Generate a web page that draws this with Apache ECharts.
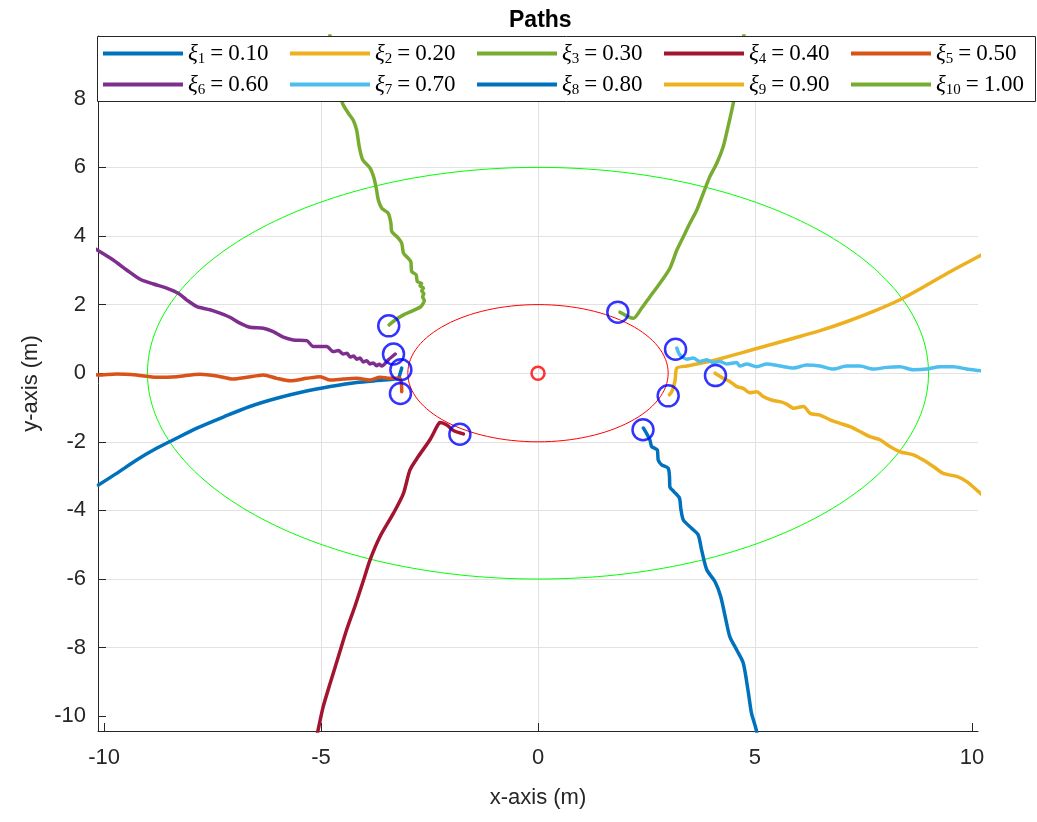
<!DOCTYPE html>
<html>
<head>
<meta charset="utf-8">
<title>Paths</title>
<script src="https://cdn.jsdelivr.net/npm/echarts@6/dist/echarts.min.js"></script>
<style>
  html, body { margin: 0; padding: 0; background: #ffffff; }
  #chart { width: 1037px; height: 822px; }
</style>
</head>
<body>
<div id="chart"></div>
<script>
// Parameter values of the ten runs (legend order)
const xiValues = ['0.10', '0.20', '0.30', '0.40', '0.50', '0.60', '0.70', '0.80', '0.90', '1.00'];

// Trajectories, [x, y] in metres
const path1 = [[-10.13,-3.26],[-9.71,-2.92],[-9.25,-2.53],[-8.79,-2.19],[-8.40,-1.94],[-7.86,-1.60],[-7.24,-1.27],[-6.64,-0.97],[-6.02,-0.73],[-5.41,-0.54],[-4.79,-0.39],[-4.18,-0.27],[-3.56,-0.20],[-3.22,-0.15],[-3.18,-0.02],[-3.14,0.15]];
const path2 = [[10.40,3.58],[10.15,3.40],[9.57,3.01],[8.96,2.57],[8.34,2.14],[7.73,1.80],[7.11,1.50],[6.50,1.24],[5.89,1.02],[5.27,0.80],[4.65,0.58],[4.04,0.37],[3.43,0.21],[3.20,0.15],[3.16,-0.20],[3.10,-0.49],[3.03,-0.63]];
const path3 = [[-4.80,9.90],[-4.65,8.60],[-4.50,7.85],[-4.37,7.58],[-4.26,7.38],[-4.18,7.09],[-4.12,6.61],[-4.04,6.22],[-3.87,5.98],[-3.78,5.69],[-3.72,5.34],[-3.68,5.05],[-3.60,4.81],[-3.45,4.66],[-3.39,4.37],[-3.37,4.13],[-3.22,3.94],[-3.14,3.79],[-3.10,3.50],[-2.99,3.35],[-2.93,3.25],[-2.91,2.96],[-2.81,2.87],[-2.78,2.67],[-2.68,2.62],[-2.72,2.55],[-2.64,2.48],[-2.68,2.40],[-2.63,2.32],[-2.66,2.23],[-2.62,2.12],[-2.70,1.94],[-2.87,1.83],[-3.10,1.70],[-3.29,1.55],[-3.43,1.41]];
const path4 = [[-5.12,-10.70],[-5.06,-10.35],[-4.95,-9.72],[-4.79,-9.04],[-4.60,-8.26],[-4.41,-7.48],[-4.22,-6.80],[-4.02,-6.03],[-3.87,-5.44],[-3.64,-4.76],[-3.33,-4.08],[-3.10,-3.50],[-2.95,-2.82],[-2.76,-2.43],[-2.49,-1.94],[-2.33,-1.56],[-2.26,-1.44],[-2.10,-1.51],[-1.95,-1.67],[-1.72,-1.77]];
const path5 = [[-10.30,-0.04],[-10.13,-0.05],[-9.71,-0.02],[-9.25,-0.05],[-8.79,-0.12],[-8.32,-0.10],[-7.79,-0.03],[-7.40,-0.08],[-7.02,-0.17],[-6.71,-0.12],[-6.33,-0.05],[-6.02,-0.15],[-5.71,-0.22],[-5.33,-0.15],[-5.02,-0.10],[-4.79,-0.20],[-4.49,-0.17],[-4.18,-0.15],[-3.87,-0.20],[-3.64,-0.12],[-3.41,-0.15],[-3.18,-0.15],[-3.14,-0.54]];
const path6 = [[-10.30,3.70],[-10.13,3.57],[-9.79,3.30],[-9.48,3.01],[-9.17,2.74],[-8.86,2.60],[-8.56,2.48],[-8.29,2.33],[-8.10,2.14],[-7.86,1.94],[-7.56,1.85],[-7.33,1.75],[-7.10,1.63],[-6.87,1.46],[-6.64,1.34],[-6.33,1.31],[-6.10,1.21],[-5.87,1.05],[-5.64,0.97],[-5.33,0.95],[-5.18,0.78],[-4.87,0.78],[-4.72,0.63],[-4.60,0.66],[-4.49,0.56],[-4.40,0.58],[-4.33,0.47],[-4.25,0.50],[-4.18,0.41],[-4.10,0.44],[-4.03,0.33],[-3.95,0.36],[-3.87,0.27],[-3.80,0.30],[-3.72,0.22],[-3.66,0.26],[-3.60,0.21],[-3.45,0.39],[-3.29,0.56]];
const path7 = [[10.30,0.06],[10.15,0.08],[9.88,0.12],[9.57,0.19],[9.26,0.19],[8.96,0.12],[8.65,0.10],[8.34,0.19],[8.03,0.17],[7.73,0.12],[7.42,0.21],[7.11,0.21],[6.80,0.12],[6.50,0.21],[6.19,0.24],[5.89,0.15],[5.58,0.21],[5.27,0.27],[5.04,0.19],[4.81,0.27],[4.65,0.21],[4.58,0.31],[4.35,0.27],[4.19,0.34],[4.04,0.31],[3.89,0.39],[3.73,0.34],[3.58,0.44],[3.43,0.41],[3.27,0.53],[3.20,0.73]];
const path8 = [[5.08,-10.70],[5.02,-10.35],[4.92,-9.91],[4.85,-9.33],[4.73,-8.45],[4.58,-8.07],[4.42,-7.68],[4.33,-7.19],[4.21,-6.51],[4.08,-6.08],[3.89,-5.73],[3.77,-5.15],[3.69,-4.71],[3.54,-4.52],[3.35,-4.28],[3.29,-3.94],[3.26,-3.64],[3.13,-3.45],[3.04,-3.32],[3.03,-3.01],[3.00,-2.77],[2.85,-2.67],[2.77,-2.53],[2.75,-2.24],[2.62,-2.14],[2.58,-1.95],[2.50,-1.75],[2.43,-1.60]];
const path9 = [[4.08,0.00],[4.27,-0.15],[4.42,-0.24],[4.58,-0.39],[4.73,-0.44],[4.88,-0.57],[5.04,-0.54],[5.19,-0.68],[5.38,-0.78],[5.58,-0.83],[5.73,-0.90],[5.89,-1.02],[6.12,-0.97],[6.27,-1.17],[6.50,-1.22],[6.73,-1.36],[6.96,-1.46],[7.19,-1.56],[7.42,-1.70],[7.65,-1.85],[7.88,-1.94],[8.11,-2.14],[8.34,-2.29],[8.65,-2.38],[8.88,-2.53],[9.11,-2.72],[9.34,-2.92],[9.65,-3.01],[9.88,-3.16],[10.15,-3.45],[10.30,-3.62]];
const path10 = [[4.75,9.90],[4.62,8.80],[4.50,7.87],[4.38,7.19],[4.27,6.61],[4.12,6.12],[3.96,5.73],[3.81,5.25],[3.66,4.76],[3.50,4.37],[3.35,3.98],[3.20,3.59],[3.04,3.06],[2.81,2.62],[2.58,2.23],[2.39,1.90],[2.20,1.60],[2.08,1.65],[1.89,1.78]];
const paths = [path1, path2, path3, path4, path5, path6, path7, path8, path9, path10];

// Goal positions (blue rings) and the centre point
const goals = [[-3.44,1.38],[-3.33,0.56],[-3.16,0.10],[-3.17,-0.59],[-1.80,-1.78],[1.84,1.78],[3.17,0.70],[3.00,-0.66],[4.09,-0.07],[2.42,-1.65]];
const centre = [[0, 0]];

// Ellipses: [cx, cy, semi-axis x, semi-axis y]
const outerEllipse = [[0, 0, 9, 6]];
const innerEllipse = [[0, 0, 3, 2]];

// Axis ranges and tick values
const xRange = [-10.14, 10.14];
const yRange = [-10.43, 9.83];
const xTicks = [-10, -5, 0, 5, 10];
const yTicks = [-10, -8, -6, -4, -2, 0, 2, 4, 6, 8];

const pathColors = ['#0072BD', '#EDB120', '#77AC30', '#A2142F', '#D95319',
                    '#7E2F8E', '#4DBEEE', '#0072BD', '#EDB120', '#77AC30'];
const axisColor = '#262626';
const sansFont = '"Liberation Sans", Arial, sans-serif';
const serifFont = '"Liberation Serif", "DejaVu Serif", serif';

const pathNames = xiValues.map((v, i) => 'ξ' + (i + 1) + '=' + v);

const chart = echarts.init(document.getElementById('chart'), null, { renderer: 'canvas' });

function ellipseSeries(data, color) {
  return {
    type: 'custom',
    data: data,
    silent: true,
    z: 1,
    renderItem: function (params, api) {
      const c = api.coord([api.value(0), api.value(1)]);
      const s = api.size([api.value(2), api.value(3)]);
      return {
        type: 'ellipse',
        shape: { cx: c[0], cy: c[1], rx: s[0], ry: s[1] },
        style: { fill: 'none', stroke: color, lineWidth: 1 }
      };
    }
  };
}

const lineSeries = paths.map((p, i) => ({
  name: pathNames[i],
  type: 'line',
  data: p,
  showSymbol: false,
  symbol: 'none',
  smooth: 0.25,
  clip: true,
  silent: true,
  z: 2,
  lineStyle: { color: pathColors[i], width: 3.5, cap: 'round', join: 'round' },
  itemStyle: { color: pathColors[i] }
}));

const legendRich = {
  g: { fontFamily: serifFont, fontStyle: 'italic', fontSize: 23, lineHeight: 26, color: '#000' },
  s: { fontFamily: serifFont, fontSize: 15, lineHeight: 14, verticalAlign: 'bottom', color: '#000' },
  e: { fontFamily: serifFont, fontSize: 23, lineHeight: 26, padding: [0, 5, 0, 5], color: '#000' },
  v: { fontFamily: serifFont, fontSize: 23, lineHeight: 26, color: '#000' }
};

const legends = pathNames.map((name, i) => ({
  data: [name],
  left: 103 + (i % 5) * 187,
  top: 42 + Math.floor(i / 5) * 31,
  padding: 0,
  icon: 'rect',
  itemWidth: 80,
  itemHeight: 4,
  selectedMode: false,
  z: 200,
  formatter: function () {
    return '{g|ξ}{s|' + (i + 1) + '}{e|=}{v|' + xiValues[i] + '}';
  },
  textStyle: { rich: legendRich }
}));

chart.setOption({
  animation: false,
  backgroundColor: '#ffffff',
  title: {
    text: 'Paths',
    left: 504,
    top: 4,
    textStyle: { fontFamily: sansFont, fontSize: 23, fontWeight: 'bold', color: '#000' }
  },
  legend: legends,
  graphic: {
    elements: [{
      type: 'rect',
      z: 100,
      silent: true,
      shape: { x: 97.5, y: 36.5, width: 938, height: 65 },
      style: { fill: '#ffffff', stroke: axisColor, lineWidth: 1 }
    }]
  },
  grid: { left: 98, right: 59, top: 36, bottom: 91 },
  xAxis: {
    type: 'value',
    min: xRange[0],
    max: xRange[1],
    splitNumber: 5,
    name: 'x-axis (m)',
    nameLocation: 'middle',
    nameGap: 56,
    nameTextStyle: { fontFamily: sansFont, fontSize: 22, color: axisColor },
    axisLine: { show: true, onZero: false, lineStyle: { color: axisColor, width: 1 } },
    axisTick: { show: true, inside: true, length: 8, customValues: xTicks, lineStyle: { color: axisColor } },
    axisLabel: { customValues: xTicks, fontFamily: sansFont, fontSize: 22, color: axisColor, margin: 16 },
    splitLine: { show: true, showMinLine: false, showMaxLine: false, lineStyle: { color: '#e2e2e2', width: 1 } }
  },
  yAxis: {
    type: 'value',
    min: yRange[0],
    max: yRange[1],
    splitNumber: 10,
    name: 'y-axis (m)',
    nameLocation: 'middle',
    nameGap: 56,
    nameRotate: 90,
    nameTextStyle: { fontFamily: sansFont, fontSize: 22, color: axisColor },
    axisLine: { show: true, onZero: false, lineStyle: { color: axisColor, width: 1 } },
    axisTick: { show: true, inside: true, length: 8, customValues: yTicks, lineStyle: { color: axisColor } },
    axisLabel: { customValues: yTicks, fontFamily: sansFont, fontSize: 22, color: axisColor, margin: 12 },
    splitLine: { show: true, showMinLine: false, showMaxLine: false, lineStyle: { color: '#e2e2e2', width: 1 } }
  },
  series: [
    ellipseSeries(outerEllipse, '#00ff00'),
    ellipseSeries(innerEllipse, '#ff0000')
  ].concat(lineSeries).concat([
    {
      type: 'scatter',
      data: centre,
      symbol: 'circle',
      symbolSize: 13,
      silent: true,
      z: 5,
      itemStyle: { color: 'rgba(0,0,0,0)', borderColor: '#ff0000', borderWidth: 2.5 }
    },
    {
      type: 'scatter',
      data: goals,
      symbol: 'circle',
      symbolSize: 21,
      silent: true,
      z: 5,
      itemStyle: { color: 'rgba(0,0,0,0)', borderColor: '#0000ff', borderWidth: 2.5 }
    }
  ])
});
</script>
</body>
</html>
